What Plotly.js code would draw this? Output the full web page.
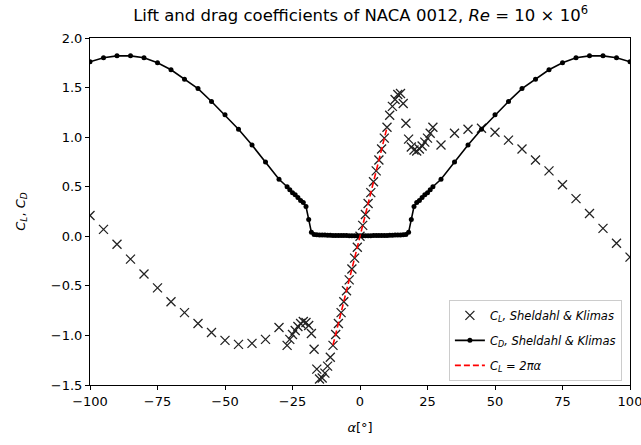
<!DOCTYPE html>
<html>
<head>
<meta charset="utf-8">
<script src="https://cdn.plot.ly/plotly-3.0.1.min.js"></script>
<style>html,body{margin:0;padding:0;background:#fff;}#chart{width:641px;height:445px;}</style>
</head>
<body>
<div id="chart"></div>
<script>
// Angle of attack [deg]
const alphaDeg = [-100,-95,-90,-85,-80,-75,-70,-65,-60,-55,-50,-45,-40,-35,-30,
  -27,-26,-25,-24,-23,-22,-21,-20,-19,-18,-17,-16,-15,-14,-13,-12,-11,-10,-9,-8,-7,-6,-5,-4,-3,-2,-1,
  0,1,2,3,4,5,6,7,8,9,10,11,12,13,14,15,16,17,18,19,20,21,22,23,24,25,26,27,
  30,35,40,45,50,55,60,65,70,75,80,85,90,95,100];
// Lift coefficient, Sheldahl & Klimas
const clSK = [0.21,0.07,-0.08,-0.23,-0.38,-0.52,-0.66,-0.77,-0.88,-0.97,-1.05,-1.09,-1.08,-1.04,-0.92,
  -1.10,-1.04,-0.99,-0.95,-0.91,-0.88,-0.86,-0.87,-0.90,-0.98,-1.14,-1.34,-1.44,-1.43,-1.38,-1.31,-1.22,-1.10,-0.99,-0.88,-0.77,-0.66,-0.55,-0.44,-0.33,-0.22,-0.11,
  0.00,0.11,0.22,0.33,0.44,0.55,0.66,0.77,0.88,0.99,1.10,1.22,1.31,1.38,1.43,1.44,1.34,1.14,0.98,0.90,0.87,0.86,0.88,0.91,0.95,0.99,1.04,1.10,
  0.92,1.04,1.08,1.09,1.05,0.97,0.88,0.77,0.66,0.52,0.38,0.23,0.08,-0.07,-0.21];
// Drag coefficient, Sheldahl & Klimas
const cdSK = [1.76,1.80,1.82,1.82,1.80,1.75,1.68,1.585,1.49,1.36,1.225,1.08,0.92,0.75,0.575,
  0.50,0.47,0.44,0.42,0.39,0.36,0.34,0.30,0.17,0.04,0.018,0.016,0.014,0.013,0.012,0.011,0.010,0.009,0.009,0.008,0.008,0.007,0.007,0.006,0.006,0.006,0.006,
  0.006,0.006,0.006,0.006,0.006,0.007,0.007,0.008,0.008,0.009,0.009,0.010,0.011,0.012,0.013,0.014,0.016,0.018,0.04,0.17,0.30,0.34,0.36,0.39,0.42,0.44,0.47,0.50,
  0.575,0.75,0.92,1.08,1.225,1.36,1.49,1.585,1.68,1.75,1.80,1.82,1.82,1.80,1.76];
// Thin airfoil theory line
const alphaTheory = [-10, 10];
const clTheory = [-1.097, 1.097];

const xTicks = [-100,-75,-50,-25,0,25,50,75,100];
const yTicks = [-1.5,-1.0,-0.5,0.0,0.5,1.0,1.5,2.0];

const font = {family: 'DejaVu Sans, sans-serif', size: 13, color: '#000'};

const traces = [
  {x: alphaDeg, y: clSK, type: 'scatter', mode: 'markers', legendgroup: 'a',
   name: '<i>C<sub>L</sub>, Sheldahl &amp; Klimas</i>',
   marker: {symbol: 'x-thin-open', size: 9, color: '#222', line: {width: 1.3, color: '#222'}}},
  {x: alphaDeg, y: cdSK, type: 'scatter', mode: 'lines+markers', legendgroup: 'b',
   name: '<i>C<sub>D</sub>, Sheldahl &amp; Klimas</i>',
   line: {color: '#000', width: 1.6},
   marker: {symbol: 'circle', size: 5, color: '#000'}},
  {x: alphaTheory, y: clTheory, type: 'scatter', mode: 'lines', legendgroup: 'c',
   name: '<i>C<sub>L</sub> = 2πα</i>',
   line: {color: '#ff0000', width: 1.6, dash: '6px,3px'}}
];

const layout = {
  width: 641, height: 445,
  margin: {l: 90, r: 11, t: 38, b: 60},
  paper_bgcolor: '#fff', plot_bgcolor: '#fff',
  font: font,
  title: {text: 'Lift and drag coefficients of NACA 0012, <i>Re</i> = 10 × 10<sup>6</sup>',
          font: {family: 'DejaVu Sans, sans-serif', size: 16.5, color: '#000'},
          x: 0.5625, xanchor: 'center', y: 0.965, yanchor: 'middle'},
  xaxis: {range: [-100, 100], tickvals: xTicks, ticktext: xTicks.map(v => v < 0 ? '−' + Math.abs(v) : String(v)),
          showgrid: false, zeroline: false, showline: true, mirror: true,
          linecolor: '#000', linewidth: 1, ticks: 'outside', ticklen: 4, tickcolor: '#000',
          tickfont: font, ticklabeloverflow: 'allow',
          title: {text: '<i>α</i>[°]', font: font, standoff: 15}},
  yaxis: {range: [-1.5, 2.0], tickvals: yTicks, ticktext: yTicks.map(v => (v < 0 ? '−' : '') + Math.abs(v).toFixed(1)),
          showgrid: false, zeroline: false, showline: true, mirror: true,
          linecolor: '#000', linewidth: 1, ticks: 'outside', ticklen: 4, tickcolor: '#000',
          tickfont: font, ticklabeloverflow: 'allow',
          title: {text: '<i>C<sub>L</sub></i>, <i>C<sub>D</sub></i>', font: font, standoff: 22}},
  showlegend: true,
  legend: {x: 0.985, y: 0.012, xanchor: 'right', yanchor: 'bottom',
           bgcolor: '#fff', bordercolor: '#ccc', borderwidth: 1,
           font: {family: 'DejaVu Sans, sans-serif', size: 11.5, color: '#000'},
           itemwidth: 30, tracegroupgap: 6}
};

Plotly.newPlot('chart', traces, layout, {displayModeBar: false, staticPlot: true});
</script>
</body>
</html>
